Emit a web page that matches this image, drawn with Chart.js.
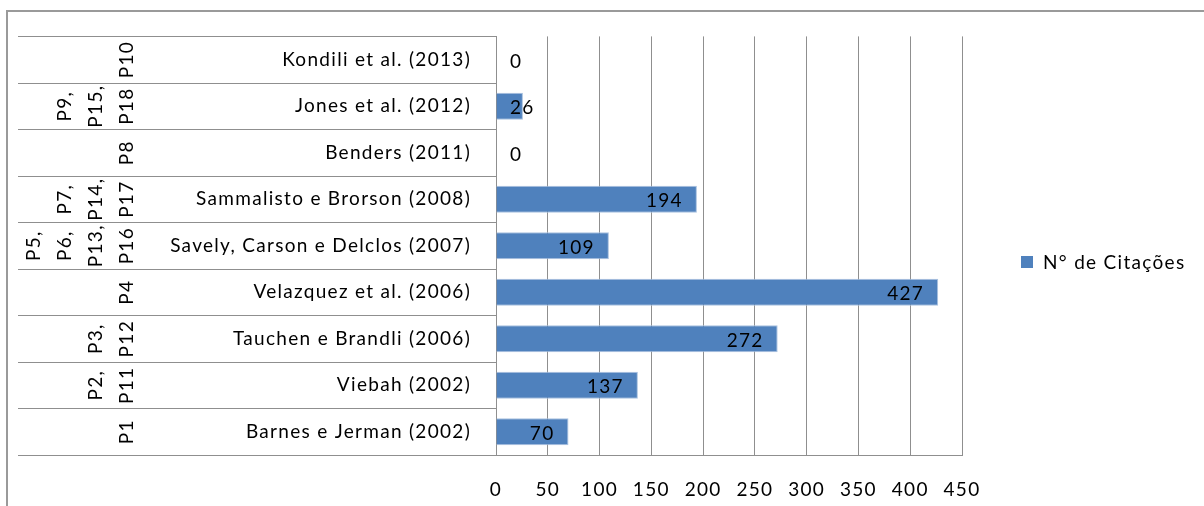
<!DOCTYPE html>
<html>
<head>
<meta charset="utf-8">
<script src="https://cdn.jsdelivr.net/npm/chart.js@4.4.1/dist/chart.umd.min.js"></script>
<style>
  html, body { margin: 0; padding: 0; background: #ffffff; }
  #wrap { width: 1204px; height: 506px; position: relative; }
</style>
</head>
<body>
<div id="wrap"><canvas id="c" width="1204" height="506"></canvas></div>
<script>
// Data (top to bottom as displayed)
const studies = [
  'Kondili et al. (2013)',
  'Jones et al. (2012)',
  'Benders (2011)',
  'Sammalisto e Brorson (2008)',
  'Savely, Carson e Delclos (2007)',
  'Velazquez et al. (2006)',
  'Tauchen e Brandli (2006)',
  'Viebah (2002)',
  'Barnes e Jerman (2002)'
];
const paperCodes = [
  ['P10'],
  ['P9,', 'P15,', 'P18'],
  ['P8'],
  ['P7,', 'P14,', 'P17'],
  ['P5,', 'P6,', 'P13,', 'P16'],
  ['P4'],
  ['P3,', 'P12'],
  ['P2,', 'P11'],
  ['P1']
];
const citations = [0, 26, 0, 194, 109, 427, 272, 137, 70];
const seriesName = 'N° de Citações';
const xTicks = [0, 50, 100, 150, 200, 250, 300, 350, 400, 450];

const FONT = 'Lato, "Liberation Sans", sans-serif';
const FSIZE = 19;
const LS = '1.3px';
const GRID = '#8f8f8f';
const BAR = '#4f81bd';

const decorPlugin = {
  id: 'decor',
  beforeInit(chart) { chart.ctx.letterSpacing = LS; },
  beforeDraw(chart) {
    const ctx = chart.ctx;
    ctx.letterSpacing = LS;
    ctx.save();
    ctx.strokeStyle = '#9a9a9a';
    ctx.lineWidth = 2;
    ctx.beginPath();
    ctx.moveTo(7, 507);
    ctx.lineTo(7, 11);
    ctx.lineTo(1205, 11);
    ctx.stroke();
    ctx.restore();
  },
  afterDraw(chart) {
    const ctx = chart.ctx;
    const y = chart.scales.y;
    const area = chart.chartArea;
    const n = studies.length;
    ctx.save();
    ctx.letterSpacing = LS;
    // category separator lines on the left label area
    ctx.strokeStyle = GRID;
    ctx.lineWidth = 1;
    for (let i = 0; i <= n; i++) {
      let yy;
      if (i === 0) yy = area.top;
      else if (i === n) yy = area.bottom;
      else yy = (y.getPixelForTick(i - 1) + y.getPixelForTick(i)) / 2;
      yy = Math.round(yy) + 0.5;
      ctx.beginPath();
      ctx.moveTo(18, yy);
      ctx.lineTo(area.left, yy);
      ctx.stroke();
    }
    // rotated paper codes
    ctx.fillStyle = '#000';
    ctx.font = FSIZE + 'px ' + FONT;
    ctx.textAlign = 'center';
    ctx.textBaseline = 'middle';
    paperCodes.forEach((lines, i) => {
      const cy = y.getPixelForTick(i);
      const m = lines.length;
      lines.forEach((t, j) => {
        const cx = 126.5 - (m - 1 - j) * 31;
        ctx.save();
        ctx.translate(cx, cy);
        ctx.rotate(-Math.PI / 2);
        ctx.fillText(t, 0, 0);
        ctx.restore();
      });
    });
    // legend
    const ds = chart.data.datasets[0];
    const lx = area.right + 59;
    const ly = 262;
    ctx.fillStyle = ds.backgroundColor;
    ctx.fillRect(lx, ly - 6, 12, 12);
    ctx.fillStyle = '#000';
    ctx.textAlign = 'left';
    ctx.fillText(ds.label, lx + 22, ly + 1);
    ctx.restore();
  },
  afterDatasetsDraw(chart) {
    const ctx = chart.ctx;
    const meta = chart.getDatasetMeta(0);
    const area = chart.chartArea;
    ctx.save();
    ctx.letterSpacing = LS;
    ctx.font = FSIZE + 'px ' + FONT;
    ctx.fillStyle = '#000';
    ctx.textAlign = 'left';
    ctx.textBaseline = 'middle';
    meta.data.forEach((el, i) => {
      const txt = String(chart.data.datasets[0].data[i]);
      const w = ctx.measureText(txt).width;
      const left = Math.max(el.x - 14 - w, area.left + 14);
      ctx.fillText(txt, left, el.y + 2);
    });
    ctx.restore();
  }
};

new Chart(document.getElementById('c'), {
  type: 'bar',
  data: {
    labels: studies,
    datasets: [{
      label: seriesName,
      data: citations,
      backgroundColor: BAR,
      borderColor: '#a9c1df',
      borderWidth: 1,
      categoryPercentage: 1,
      barPercentage: 0.58
    }]
  },
  options: {
    indexAxis: 'y',
    responsive: false,
    animation: false,
    devicePixelRatio: 1,
    layout: { padding: { top: 35, right: 242, left: 0, bottom: 0 } },
    plugins: { legend: { display: false }, tooltip: { enabled: false } },
    scales: {
      x: {
        min: 0, max: 450,
        afterBuildTicks(scale) { scale.ticks = xTicks.map(v => ({ value: v })); },
        afterFit(scale) { scale.height = 51; },
        grid: { color: GRID, lineWidth: 1, drawTicks: false },
        border: { color: GRID, width: 1 },
        ticks: { color: '#000', font: { family: FONT, size: FSIZE }, padding: 23, maxRotation: 0 }
      },
      y: {
        afterFit(scale) { scale.width = 496; },
        grid: { display: false, drawTicks: false },
        border: { color: GRID, width: 1 },
        ticks: { color: '#000', font: { family: FONT, size: FSIZE }, padding: 25 }
      }
    }
  },
  plugins: [decorPlugin]
});
</script>
</body>
</html>
